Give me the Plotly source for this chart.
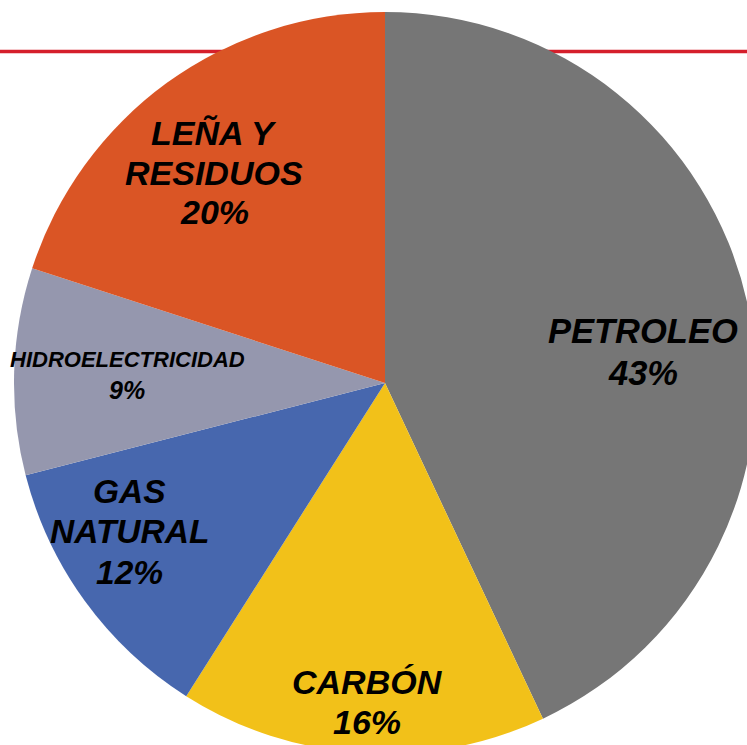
import math
import plotly.graph_objects as go

# Data
labels = ["PETROLEO", "CARBÓN", "GAS NATURAL", "HIDROELECTRICIDAD", "LEÑA Y RESIDUOS"]
values = [43, 16, 12, 9, 20]
label_lines = [["PETROLEO"], ["CARBÓN"], ["GAS", "NATURAL"], ["HIDROELECTRICIDAD"], ["LEÑA Y", "RESIDUOS"]]
colors = ["#767676", "#F2C119", "#4767AE", "#9597AE", "#DA5525"]

# Figure geometry (pixels)
W, H = 760, 760
CX, CY, R = 385, 383, 371

# label style: radial fraction, angle offset (deg), font size, pct font size, line spacing (px)
label_rad = [0.702, 0.858, 0.797, 0.695, 0.733]
label_dang = [5.5, -0.36, 5.97, 0.2, -2.96]
label_size = [34.5, 34, 33.5, 22, 34]
pct_size = [34.5, 34, 33.5, 25, 34]
label_gap = [41.7, 39.5, 40.7, 30.3, 39.3]

fig = go.Figure(go.Pie(
    labels=labels,
    values=values,
    sort=False,
    direction="clockwise",
    rotation=0,
    marker=dict(colors=colors, line=dict(width=0)),
    textinfo="none",
    hoverinfo="skip",
    showlegend=False,
    domain=dict(x=[(CX - R) / W, (CX + R) / W],
                y=[(H - CY - R) / H, (H - CY + R) / H]),
))

total = sum(values)
cum = 0
annotations = []
for i, v in enumerate(values):
    mid = (cum + v / 2) / total * 360 + label_dang[i]
    cum += v
    a = math.radians(mid)
    bx = CX + label_rad[i] * R * math.sin(a)
    by = CY - label_rad[i] * R * math.cos(a) + 1
    pct = round(v / total * 100)
    lines = label_lines[i] + [f"{pct}%"]
    n = len(lines)
    for j, ln in enumerate(lines):
        py = by + (j - (n - 1) / 2) * label_gap[i]
        size = pct_size[i] if j == n - 1 else label_size[i]
        annotations.append(dict(
            x=bx / W, y=1 - py / H, xref="paper", yref="paper",
            text=ln, showarrow=False, xanchor="center", yanchor="middle",
            font=dict(family="Liberation Sans, Arial, sans-serif", size=size,
                      color="#000000", weight="bold", style="italic"),
        ))

fig.update_layout(
    width=W, height=H,
    margin=dict(l=0, r=0, t=0, b=0),
    paper_bgcolor="white",
    plot_bgcolor="white",
    annotations=annotations,
    shapes=[dict(type="line", xref="paper", yref="paper", x0=0, x1=1,
                 y0=1 - 51.5 / H, y1=1 - 51.5 / H,
                 line=dict(color="#D51F2B", width=3.5), layer="below")],
)

fig.write_html(
    "out.html",
    config={"displayModeBar": False},
    post_script="document.body.style.margin='0';document.body.style.overflow='hidden';document.documentElement.style.overflow='hidden';",
)
